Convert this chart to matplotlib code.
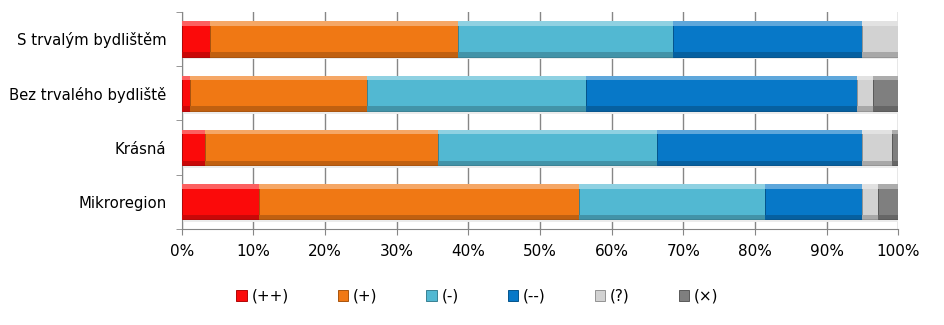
import numpy as np
import matplotlib.pyplot as plt
from matplotlib.colors import to_rgb
from matplotlib.ticker import PercentFormatter

plt.rcParams['font.family'] = ['DejaVu Sans']

categories = ["S trvalým bydlištěm", "Bez trvalého bydliště", "Krásná", "Mikroregion"]
labels = ["(++)", "(+)", "(-)", "(--)", "(?)", "(×)"]
colors = ["#fb0a0a", "#f07814", "#52b8d2", "#0778c8", "#d2d2d2", "#7f7f7f"]

# shares in %, one list per answer, rows follow categories
pp = [4.0, 1.1, 3.2, 10.8]
p = [34.6, 24.8, 32.5, 44.7]
m = [29.9, 30.5, 30.6, 25.9]
mm = [26.4, 37.8, 28.7, 13.5]
unknown = [5.1, 2.3, 4.1, 2.3]
cross = [0.0, 3.5, 0.9, 2.8]
series = [pp, p, m, mm, unknown, cross]


def shade(c, f):
    r = np.array(to_rgb(c))
    if f > 0:
        return tuple(r + (1 - r) * f)
    return tuple(r * (1 + f))


fig = plt.figure(figsize=(9.45, 3.25), dpi=100)
ax = fig.add_axes([0.1923, 0.2954, 0.7583, 0.6686])

y = np.arange(len(categories))
h = 0.65
left = np.zeros(len(categories))

# soft drop shadow under each bar
ax.barh(y + 0.05, 100, height=h, color="#ececec", zorder=1)

for vals, c, lab in zip(series, colors, labels):
    vals = np.array(vals)
    ax.barh(y, vals, left=left, height=h, color=c, edgecolor=shade(c, -0.3),
            linewidth=0.7, label=lab, zorder=3)
    # bevel: light strip on top, dark strip at bottom
    ax.barh(y - h / 2 + 0.04, vals, left=left, height=0.08, color=shade(c, 0.35),
            linewidth=0, zorder=4)
    ax.barh(y + h / 2 - 0.04, vals, left=left, height=0.08, color=shade(c, -0.2),
            linewidth=0, zorder=4)
    left += vals

ax.set_xlim(0, 100)
ax.set_ylim(len(categories) - 0.5, -0.5)
ax.set_yticks(y)
ax.set_yticklabels(categories, fontsize=10.7)
ax.set_yticks(np.arange(-0.5, len(categories)), minor=True)
ax.tick_params(axis="y", which="major", length=0, pad=11)
ax.tick_params(axis="y", which="minor", length=4.5, color="#868686")
ax.set_xticks(np.arange(0, 101, 10))
ax.xaxis.set_major_formatter(PercentFormatter(decimals=0))
ax.tick_params(axis="x", length=4.5, color="#868686", labelsize=11, pad=6)

ax.grid(axis="x", color="#868686", linewidth=1, zorder=0)
ax.set_axisbelow(True)
for s in ["top", "right"]:
    ax.spines[s].set_visible(False)
for s in ["left", "bottom"]:
    ax.spines[s].set_color("#868686")

handles, labs = ax.get_legend_handles_labels()
fig.legend(handles, labs, loc="center", bbox_to_anchor=(0.505, 0.089), ncol=6,
           frameon=False, fontsize=11, handlelength=0.7, handleheight=0.7,
           handletextpad=0.3, columnspacing=3.2)

fig.savefig("out.png", dpi=100)
